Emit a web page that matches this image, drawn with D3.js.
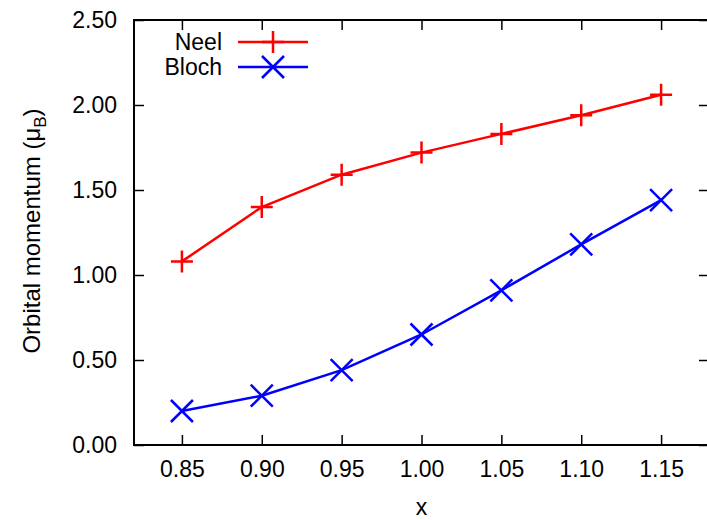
<!DOCTYPE html>
<html>
<head>
<meta charset="utf-8">
<script src="https://cdn.jsdelivr.net/npm/d3@7"></script>
<style>
  body { margin: 0; background: #fff; }
  text { font-family: "Liberation Sans", Arial, sans-serif; }
</style>
</head>
<body>
<div id="chart"></div>
<script>
// x positions and values
var xs = [0.85, 0.90, 0.95, 1.00, 1.05, 1.10, 1.15];
var neel = [1.08, 1.40, 1.59, 1.72, 1.83, 1.94, 2.06];
var bloch = [0.20, 0.29, 0.44, 0.65, 0.91, 1.18, 1.44];
var xTicks = [0.85, 0.90, 0.95, 1.00, 1.05, 1.10, 1.15];
var yTicks = [0, 0.5, 1.0, 1.5, 2.0, 2.5];

var W = 707, H = 520;
var margin = {top: 20, right: -2, bottom: 75, left: 134};
var width = W - margin.left - margin.right;
var height = H - margin.top - margin.bottom;
var fs = 23;

var svg = d3.select("#chart").append("svg")
    .attr("width", W)
    .attr("height", H);

var g = svg.append("g")
    .attr("transform", "translate(" + margin.left + "," + margin.top + ")");

var x = d3.scaleLinear().domain([0.82, 1.18]).range([0, width]);
var y = d3.scaleLinear().domain([0, 2.5]).range([height, 0]);

var f2 = d3.format(".2f");

// axes with inward ticks on all four sides
g.append("g")
    .attr("transform", "translate(0," + height + ")")
    .call(d3.axisBottom(x).tickValues(xTicks).tickSize(-10).tickPadding(16).tickFormat(f2));
g.append("g")
    .call(d3.axisTop(x).tickValues(xTicks).tickSize(-10).tickFormat(""));
g.append("g")
    .call(d3.axisLeft(y).tickValues(yTicks).tickSize(-10).tickPadding(17).tickFormat(f2));
g.append("g")
    .attr("transform", "translate(" + width + ",0)")
    .call(d3.axisRight(y).tickValues(yTicks).tickSize(-10).tickFormat(""));

g.selectAll(".domain").remove();
g.selectAll(".tick line").attr("stroke", "#000").attr("stroke-width", 1.5);
g.selectAll(".tick text").attr("font-size", fs).attr("fill", "#000")
    .attr("font-family", "Liberation Sans, Arial, sans-serif");

g.append("rect")
    .attr("width", width)
    .attr("height", height)
    .attr("fill", "none")
    .attr("stroke", "#000")
    .attr("stroke-width", 2);

// axis titles
g.append("text")
    .attr("x", x(1.0))
    .attr("y", height + 70)
    .attr("text-anchor", "middle")
    .attr("font-size", fs)
    .text("x");

var yl = svg.append("text")
    .attr("transform", "translate(40,231) rotate(-90)")
    .attr("text-anchor", "middle")
    .attr("font-size", 24);
yl.append("tspan").text("Orbital momentum (\u03bc");
yl.append("tspan").attr("font-size", 17).attr("dy", 6).text("B");
yl.append("tspan").attr("dy", -6).text(")");

// series
var line = d3.line()
    .x(function(d, i) { return x(xs[i]); })
    .y(function(d) { return y(d); });

function plusPath(s) {
  return "M" + (-s) + ",0H" + s + "M0," + (-s) + "V" + s;
}
function crossPath(s) {
  return "M" + (-s) + "," + (-s) + "L" + s + "," + s + "M" + (-s) + "," + s + "L" + s + "," + (-s);
}

var series = [
  {name: "Neel", data: neel, color: "#ff0000", marker: plusPath(11)},
  {name: "Bloch", data: bloch, color: "#0000ff", marker: crossPath(11)}
];

series.forEach(function(s, k) {
  g.append("path")
      .datum(s.data)
      .attr("d", line)
      .attr("fill", "none")
      .attr("stroke", s.color)
      .attr("stroke-width", 2.5);

  g.selectAll("path.m" + k)
      .data(s.data)
    .enter()
    .append("path")
      .attr("class", "m" + k)
      .attr("transform", function(d, i) { return "translate(" + x(xs[i]) + "," + y(d) + ")"; })
      .attr("d", s.marker)
      .attr("stroke", s.color)
      .attr("stroke-width", 2.5)
      .attr("fill", "none");

  // legend
  var ly = 22 + k * 25;
  g.append("text")
      .attr("x", 88)
      .attr("y", ly)
      .attr("dy", "0.35em")
      .attr("text-anchor", "end")
      .attr("font-size", fs)
      .text(s.name);
  g.append("line")
      .attr("x1", 104).attr("x2", 174)
      .attr("y1", ly).attr("y2", ly)
      .attr("stroke", s.color)
      .attr("stroke-width", 2.5);
  g.append("path")
      .attr("transform", "translate(139," + ly + ")")
      .attr("d", s.marker)
      .attr("stroke", s.color)
      .attr("stroke-width", 2.5)
      .attr("fill", "none");
});
</script>
</body>
</html>
